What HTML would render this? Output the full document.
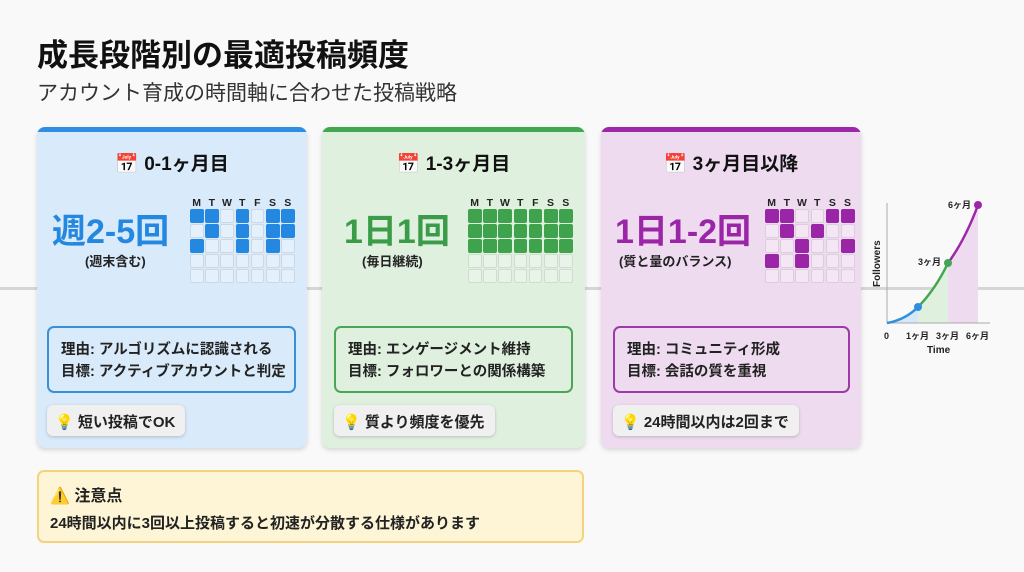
<!DOCTYPE html>
<html><head><meta charset="utf-8"><style>
*{margin:0;padding:0;box-sizing:border-box}
body{width:1024px;height:572px;background:#f9f9f9;font-family:"Liberation Sans","Noto Sans CJK JP",sans-serif;position:relative;overflow:hidden;color:#222}
.a{position:absolute}
h1{position:absolute;left:37px;top:30px;font-size:31px;font-weight:bold;color:#111}
.sub{left:37px;top:77px;font-size:21px;color:#333}
.line{left:0;top:287px;width:1024px;height:3px;background:#d6d6d6}
.card{position:absolute;top:127px;height:321px;border-radius:8px;box-shadow:0 2px 5px rgba(0,0,0,.15);overflow:hidden}
.card .bar{height:5px}
.ttl{position:absolute;top:22px;left:0;right:0;text-align:center;font-size:19px;font-weight:bold;color:#111}
.big{position:absolute;font-size:34px;font-weight:bold}
.note{position:absolute;font-size:13px;font-weight:bold;color:#222}
.reason{position:absolute;top:199px;height:67px;border:2px solid;border-radius:7px;padding:11px 0 0 12px;font-size:14.5px;font-weight:bold;line-height:22px;color:#222}
.tip{position:absolute;top:278px;height:31px;background:#f0f0f0;border-radius:6px;box-shadow:0 1px 3px rgba(0,0,0,.2);font-size:15px;font-weight:bold;padding:6px 10px 0 8px;color:#222}
.days{position:absolute;top:70px;font-size:10.5px;font-weight:bold;color:#222}
.days span{display:inline-block;width:15.2px;text-align:center}
.c{position:absolute;width:13.5px;height:13.5px;border-radius:2px;border:1px solid rgba(0,0,0,.1);background:rgba(255,255,255,.3)}
</style></head><body>
<h1>成長段階別の最適投稿頻度</h1>
<div class="a sub">アカウント育成の時間軸に合わせた投稿戦略</div>
<div class="a line"></div>

<div class="card" id="c1" style="left:37px;width:270px;background:#d9eafa"><div class="bar" style="background:#2f8ee0"></div>
<div class="ttl">📅 0-1ヶ月目</div>
<div class="big" style="left:15px;top:77px;color:#2488e0">週2-5回</div>
<div class="note" style="left:48px;top:124px">(週末含む)</div>
<div class="reason" style="left:10px;width:249px;border-color:#3a8fd8">理由: アルゴリズムに認識される<br>目標: アクティブアカウントと判定</div>
<div class="tip" style="left:10px">💡 短い投稿でOK</div>
</div>

<div class="card" id="c2" style="left:322px;width:263px;background:#dff0df"><div class="bar" style="background:#43a650"></div>
<div class="ttl">📅 1-3ヶ月目</div>
<div class="big" style="left:22px;top:77px;color:#3a9c48">1日1回</div>
<div class="note" style="left:40px;top:124px">(毎日継続)</div>
<div class="reason" style="left:12px;width:239px;border-color:#4aa655">理由: エンゲージメント維持<br>目標: フォロワーとの関係構築</div>
<div class="tip" style="left:12px">💡 質より頻度を優先</div>
</div>

<div class="card" id="c3" style="left:601px;width:260px;background:#efdbef"><div class="bar" style="background:#9c27a8"></div>
<div class="ttl">📅 3ヶ月目以降</div>
<div class="big" style="left:14px;top:77px;color:#9a25a6">1日1-2回</div>
<div class="note" style="left:18px;top:124px">(質と量のバランス)</div>
<div class="reason" style="left:12px;width:237px;border-color:#9c3aa8">理由: コミュニティ形成<br>目標: 会話の質を重視</div>
<div class="tip" style="left:12px">💡 24時間以内は2回まで</div>
</div>

<div class="a" style="left:37px;top:470px;width:547px;height:73px;background:#fdf5d6;border:2px solid #f4d37e;border-radius:7px;padding:10px 0 0 11px">
<div style="font-size:16px;font-weight:bold">⚠️ 注意点</div>
<div style="font-size:15px;font-weight:bold;margin-top:6px">24時間以内に3回以上投稿すると初速が分散する仕様があります</div>
</div>

<svg class="a" style="left:860px;top:190px" width="150" height="175" viewBox="860 190 150 175">
<path d="M887,323 Q905,320 918,307 L918,323 Z" fill="#d6e8f8"/>
<path d="M918,307 Q935,290 948,263 L948,323 L918,323 Z" fill="#dff0df"/>
<path d="M948,263 Q965,240 978,205 L978,323 L948,323 Z" fill="#efdbef"/>
<line x1="887" y1="203" x2="887" y2="323" stroke="#aaa" stroke-width="1"/>
<line x1="887" y1="323" x2="990" y2="323" stroke="#aaa" stroke-width="1"/>
<path d="M887,323 Q905,320 918,307" stroke="#2f8ee0" stroke-width="2.5" fill="none"/>
<path d="M918,307 Q935,290 948,263" stroke="#43a650" stroke-width="2.5" fill="none"/>
<path d="M948,263 Q965,240 978,205" stroke="#9c27a8" stroke-width="2.5" fill="none"/>
<circle cx="918" cy="307" r="4" fill="#2f8ee0"/>
<circle cx="948" cy="263" r="4" fill="#43a650"/>
<circle cx="978" cy="205" r="4" fill="#9c27a8"/>
<g font-family="Liberation Sans,Noto Sans CJK JP,sans-serif" font-size="9" font-weight="bold" fill="#222">
<text x="948" y="208">6ヶ月</text><text x="918" y="265">3ヶ月</text>
<text x="884" y="339">0</text><text x="906" y="339">1ヶ月</text><text x="936" y="339">3ヶ月</text><text x="966" y="339">6ヶ月</text>
<text x="927" y="353" font-size="10">Time</text>
<text transform="translate(880,287) rotate(-90)" font-size="10">Followers</text>
</g></svg>

<script>
function grid(id,x,days,pat,col){
 var c=document.getElementById(id),d=document.createElement('div');d.className='days';d.style.left=(x-1)+'px';
 d.innerHTML=days.split('').map(function(s){return '<span>'+s+'</span>'}).join('');c.appendChild(d);
 for(var r=0;r<5;r++)for(var k=0;k<days.length;k++){var e=document.createElement('div');e.className='c';
 e.style.left=(x+k*15.2)+'px';e.style.top=(82+r*15)+'px';
 if(pat[r]&&pat[r][k]=='1'){e.style.background=col;e.style.borderColor=col}c.appendChild(e);}
}
grid('c1',153,'MTWTFSS',['1101011','0101011','1001010'],'#2488e0');
grid('c2',146,'MTWTFSS',['1111111','1111111','1111111'],'#3fa24c');
grid('c3',164,'MTWTSS',['110011','010100','001001','101000'],'#9a25a6');
</script>
</body></html>
